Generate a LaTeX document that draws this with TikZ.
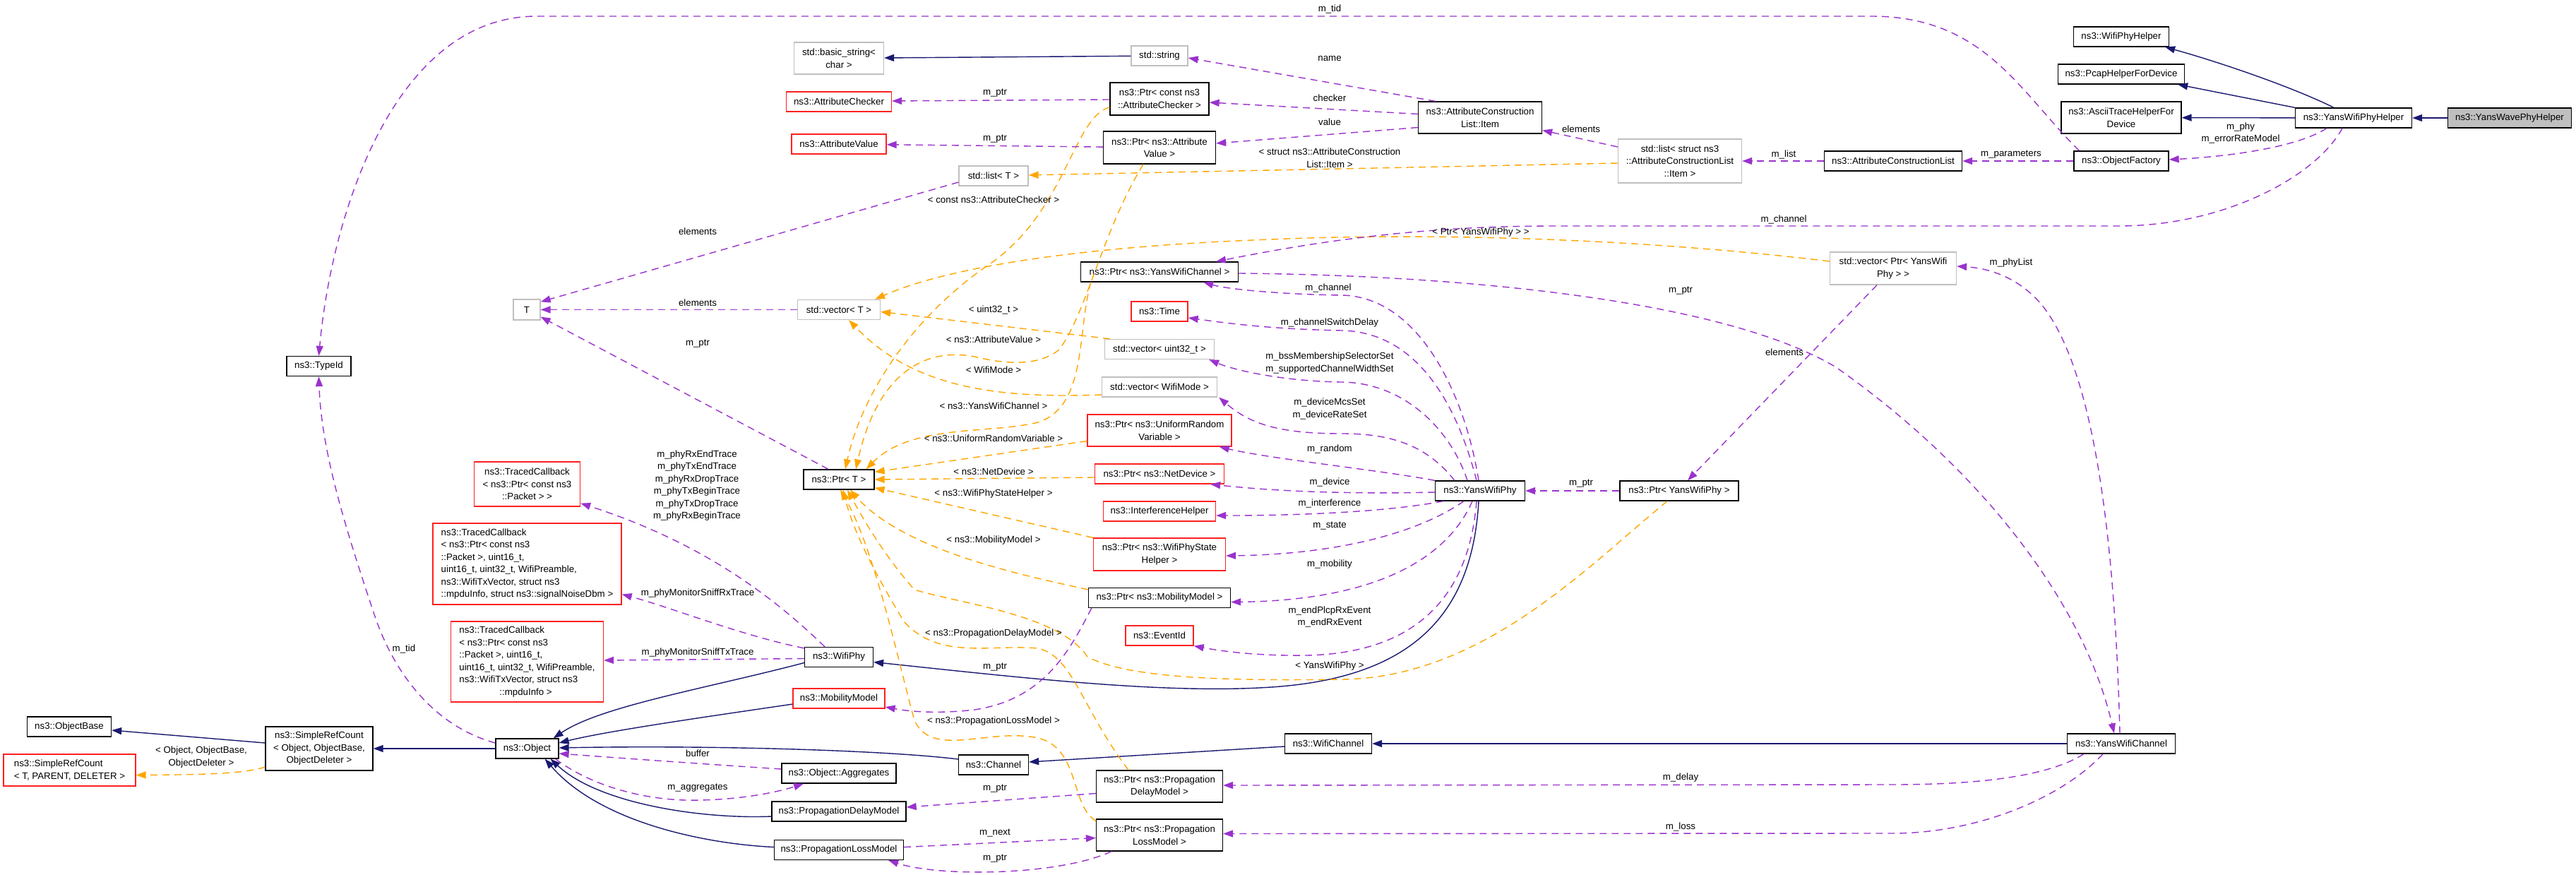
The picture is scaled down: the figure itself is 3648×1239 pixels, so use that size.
\documentclass[tikz,border=0pt]{standalone}
\usepackage{fontspec}
\setmainfont{Liberation Sans}
\usetikzlibrary{positioning, calc, arrows.meta}
\definecolor{inhblue}{HTML}{191970}
\definecolor{usepurple}{HTML}{9A32CD}
\definecolor{tplorange}{HTML}{FFA500}
\definecolor{boxgray}{HTML}{BFBFBF}
\definecolor{boxred}{HTML}{FF2020}
\begin{document}
\begin{tikzpicture}[x=1pt, y=-1pt,
          font=\fontsize{13.3}{17.5}\selectfont,
          cls/.style={rectangle, draw=black, line width=1.3pt, inner sep=0pt, minimum height=28, align=center},
          redcls/.style={cls, draw=boxred},
          graycls/.style={cls, draw=boxgray},
          thiscls/.style={cls, fill=boxgray},
          inherit/.style={draw=inhblue, line width=1.4pt, -{Triangle[length=14pt, width=10pt]}},
          usage/.style={draw=usepurple, line width=1.4pt, dash pattern=on 10pt off 7pt, -{Triangle[length=14pt, width=10pt]}},
          tmpl/.style={usage, draw=tplorange},
          lbl/.style={inner sep=0pt, align=center}
        ]
        \useasboundingbox (0,0) rectangle (3648,1239);
        \node[thiscls, minimum width=175] (yanswave) at (3554,167) {ns3::YansWavePhyHelper};
        \node[cls, minimum width=165] (yanshelper) at (3333,167) {ns3::YansWifiPhyHelper};
        \node[cls, minimum width=135] (wifiphyhelper) at (3004,52) {ns3::WifiPhyHelper};
        \node[cls, minimum width=179] (pcaphelper) at (3004,105) {ns3::PcapHelperForDevice};
        \node[cls, minimum width=170, minimum height=45] (asciihelper) at (3004,166.5) {ns3::AsciiTraceHelperFor\\Device};
        \node[cls, minimum width=134] (objfactory) at (3004,228) {ns3::ObjectFactory};
        \node[cls, minimum width=195] (attrlist) at (2681,228) {ns3::AttributeConstructionList};
        \node[graycls, minimum width=175, minimum height=62] (stdlistitem) at (2379,228) {std::list< struct ns3\\::AttributeConstructionList\\::Item >};
        \node[cls, minimum width=175, minimum height=45] (item) at (2096,166.5) {ns3::AttributeConstruction\\List::Item};
        \node[graycls, minimum width=80] (stdstring) at (1642,79) {std::string};
        \node[graycls, minimum width=127, minimum height=45] (basicstring) at (1188,82.5) {std::basic\_string<\\char >};
        \node[cls, minimum width=140, minimum height=46] (ptrchecker) at (1642,140) {ns3::Ptr< const ns3\\::AttributeChecker >};
        \node[redcls, minimum width=149] (checker) at (1188,144) {ns3::AttributeChecker};
        \node[cls, minimum width=159, minimum height=46] (ptrvalue) at (1642,209) {ns3::Ptr< ns3::Attribute\\Value >};
        \node[redcls, minimum width=134] (value) at (1188,204) {ns3::AttributeValue};
        \node[graycls, minimum width=98] (stdlistT) at (1407,249) {std::list< T >};
        \node[cls, minimum width=223] (ptrchannel) at (1642,385) {ns3::Ptr< ns3::YansWifiChannel >};
        \node[graycls, minimum width=179, minimum height=46] (vecyansphy) at (2681,380) {std::vector< Ptr< YansWifi\\Phy > >};
        \node[graycls, minimum width=38, minimum height=29] (T) at (746,438.5) {T};
        \node[cls, minimum width=91] (typeid) at (451.5,518.5) {ns3::TypeId};
        \node[graycls, minimum width=117] (vecT) at (1188,438.5) {std::vector< T >};
        \node[redcls, minimum width=80] (time) at (1642,441) {ns3::Time};
        \node[graycls, minimum width=155] (vecuint) at (1642,494.5) {std::vector< uint32\_t >};
        \node[graycls, minimum width=163] (vecmode) at (1642,548) {std::vector< WifiMode >};
        \node[redcls, minimum width=204, minimum height=45] (ptrrandom) at (1642,609.5) {ns3::Ptr< ns3::UniformRandom\\Variable >};
        \node[cls, minimum width=100] (ptrT) at (1188,679) {ns3::Ptr< T >};
        \node[redcls, minimum width=183] (ptrnetdev) at (1642,671) {ns3::Ptr< ns3::NetDevice >};
        \node[redcls, minimum width=159] (interference) at (1642,724) {ns3::InterferenceHelper};
        \node[redcls, minimum width=187, minimum height=46] (ptrstate) at (1642,785) {ns3::Ptr< ns3::WifiPhyState\\Helper >};
        \node[cls, minimum width=127] (yansphy) at (2096,695) {ns3::YansWifiPhy};
        \node[cls, minimum width=168] (ptryansphy) at (2378,695) {ns3::Ptr< YansWifiPhy >};
        \node[redcls, minimum width=150, minimum height=63] (tc1) at (746.5,685.5) {ns3::TracedCallback\\< ns3::Ptr< const ns3\\::Packet > >};
        \node[redcls, minimum width=267, minimum height=115, align=left] (tc2) at (746.5,798.5) {ns3::TracedCallback\\< ns3::Ptr< const ns3\\::Packet >, uint16\_t,\\uint16\_t, uint32\_t, WifiPreamble,\\ns3::WifiTxVector, struct ns3\\::mpduInfo, struct ns3::signalNoiseDbm >};
        \node[redcls, minimum width=216, minimum height=114, align=left] (tc3) at (746.5,937) {ns3::TracedCallback\\< ns3::Ptr< const ns3\\::Packet >, uint16\_t,\\uint16\_t, uint32\_t, WifiPreamble,\\ns3::WifiTxVector, struct ns3\\\hspace*{57pt}::mpduInfo >};
        \node[cls, minimum width=201] (ptrmobility) at (1642,846.5) {ns3::Ptr< ns3::MobilityModel >};
        \node[redcls, minimum width=96] (eventid) at (1642,900) {ns3::EventId};
        \node[cls, minimum width=97] (wifiphy) at (1188,930.5) {ns3::WifiPhy};
        \node[redcls, minimum width=130] (mobility) at (1188,989) {ns3::MobilityModel};
        \node[cls, minimum width=119] (objbase) at (98,1029) {ns3::ObjectBase};
        \node[cls, minimum width=152, minimum height=62] (refcount) at (452,1060) {ns3::SimpleRefCount\\< Object, ObjectBase,\\ObjectDeleter >};
        \node[redcls, minimum width=187, minimum height=45, align=left] (refcountT) at (98.5,1090.5) {ns3::SimpleRefCount\\< T, PARENT, DELETER >};
        \node[cls, minimum width=89] (object) at (746.5,1060) {ns3::Object};
        \node[cls, minimum width=99] (channel) at (1407,1083) {ns3::Channel};
        \node[cls, minimum width=162] (aggregates) at (1188,1095) {ns3::Object::Aggregates};
        \node[cls, minimum width=190] (delaymodel) at (1188,1149) {ns3::PropagationDelayModel};
        \node[cls, minimum width=179, minimum height=45] (ptrdelay) at (1642,1113.5) {ns3::Ptr< ns3::Propagation\\DelayModel >};
        \node[cls, minimum width=179, minimum height=45] (ptrloss) at (1642,1182.5) {ns3::Ptr< ns3::Propagation\\LossModel >};
        \node[cls, minimum width=183] (lossmodel) at (1188,1203.5) {ns3::PropagationLossModel};
        \node[cls, minimum width=123] (wifichannel) at (1881,1053) {ns3::WifiChannel};
        \node[cls, minimum width=153] (yanschannel) at (3004,1053) {ns3::YansWifiChannel};
        \draw[inherit] (yanswave) -- (yanshelper);
        \draw[inherit] ($(yanshelper.north)+(-28,0)$) .. controls (3250,125) and (3150,90) .. ($(wifiphyhelper.south east)+(-6,0)$);
        \draw[inherit] (yanshelper.north west) -- ($(pcaphelper.south east)+(-10,0)$);
        \draw[inherit] (yanshelper) -- (asciihelper);
        \draw[inherit] (stdstring) -- (basicstring);
        \draw[inherit] ($(yansphy.south)+(-2,0)$) .. controls (2085,870) and (2000,960) .. (1800,973) .. controls (1650,983) and (1450,960) .. ($(wifiphy.east)+(0,7)$);
        \draw[inherit] ($(wifiphy.west)+(0,8)$) .. controls (1000,975) and (850,1000) .. ($(object.north east)+(-8,0)$);
        \draw[inherit] ($(mobility.west)+(0,8)$) .. controls (1000,1015) and (860,1035) .. ($(object.east)+(0,-8)$);
        \draw[inherit] ($(channel.west)+(0,-8)$) .. controls (1250,1062) and (1000,1055) .. ($(object.east)+(0,-1)$);
        \draw[inherit] ($(wifichannel.west)+(0,4)$) -- ($(channel.east)+(0,-4)$);
        \draw[inherit] (yanschannel) -- (wifichannel);
        \draw[inherit] ($(delaymodel.west)+(0,7)$) .. controls (1000,1160) and (850,1140) .. ($(object.south east)+(-12,0)$);
        \draw[inherit] ($(lossmodel.west)+(0,-4)$) .. controls (1000,1195) and (850,1165) .. ($(object.south east)+(-20,0)$);
        \draw[inherit] (object) -- (refcount);
        \draw[inherit] ($(refcount.west)+(0,-8)$) -- ($(objbase.east)+(0,5)$);
        \draw[tmpl] ($(refcount.west)+(0,26)$) .. controls (345,1097) and (260,1097) .. ($(refcountT.east)+(0,7)$);
        \draw[tmpl] ($(stdlistitem.west)+(0,3)$) -- (stdlistT);
        \draw[tmpl] ($(vecyansphy.west)+(0,-10)$) .. controls (2300,335) and (2000,330) .. (1800,339) .. controls (1550,348) and (1350,375) .. ($(vecT.north east)+(-8,0)$);
        \draw[tmpl] ($(vecuint.north west)+(8,0)$) -- ($(vecT.east)+(0,3)$);
        \draw[tmpl] ($(vecmode.west)+(0,11)$) .. controls (1400,565) and (1290,545) .. ($(vecT.south)+(14,0)$);
        \draw[tmpl] ($(ptrchecker.west)+(0,12)$) .. controls (1520,165) and (1510,300) .. (1400,375) .. controls (1290,450) and (1220,560) .. ($(ptrT.north)+(9,0)$);
        \draw[tmpl] ($(ptrvalue.south)+(-23,0)$) .. controls (1560,330) and (1540,440) .. (1500,495) .. controls (1470,520) and (1420,515) .. (1380,505) .. controls (1300,490) and (1240,540) .. ($(ptrT.north)+(24,0)$);
        \draw[tmpl] ($(ptrchannel.south west)+(15,0)$) .. controls (1525,470) and (1540,575) .. (1470,598) .. controls (1400,615) and (1290,600) .. ($(ptrT.north east)+(-12,0)$);
        \draw[tmpl] ($(ptrrandom.west)+(0,15)$) -- ($(ptrT.north east)+(0,4)$);
        \draw[tmpl] ($(ptrnetdev.west)+(0,5)$) -- (ptrT.east);
        \draw[tmpl] (ptrstate.north west) -- ($(ptrT.south east)+(0,-3)$);
        \draw[tmpl] ($(ptrmobility.north west)+(0,3)$) .. controls (1450,815) and (1280,780) .. ($(ptrT.south)+(16,0)$);
        \draw[tmpl] ($(ptrdelay.north)+(-44,0)$) .. controls (1530,1000) and (1520,930) .. (1470,918) .. controls (1400,912) and (1330,935) .. (1280,880) .. controls (1250,830) and (1210,760) .. ($(ptrT.south)+(6,0)$);
        \draw[tmpl] ($(ptrloss.north west)+(0,3)$) .. controls (1515,1140) and (1530,1060) .. (1470,1045) .. controls (1400,1030) and (1320,1075) .. (1295,1020) .. controls (1275,950) and (1240,780) .. ($(ptrT.south)+(2,0)$);
        \draw[tmpl] ($(ptryansphy.south)+(-17,0)$) .. controls (2250,800) and (2100,960) .. (1900,962) .. controls (1750,964) and (1600,962) .. (1540,930) .. controls (1500,870) and (1360,855) .. (1295,835) .. controls (1255,790) and (1225,740) .. ($(ptrT.south)+(12,0)$);
        \draw[usage] ($(objfactory.north west)+(8,0)$) .. controls (2860,130) and (2810,23) .. (2650,23) -- (760,23) .. controls (560,23) and (470,300) .. (typeid.north);
        \draw[usage] ($(object.west)+(0,-8)$) .. controls (620,1030) and (560,960) .. (530,870) .. controls (490,750) and (455,640) .. (typeid.south);
        \draw[usage] ($(item.north west)+(25,0)$) -- ($(stdstring.east)+(0,3)$);
        \draw[usage] ($(item.west)+(0,-5)$) -- ($(ptrchecker.east)+(0,5)$);
        \draw[usage] ($(item.west)+(0,14)$) -- ($(ptrvalue.east)+(0,-6)$);
        \draw[usage] ($(ptrchecker.west)+(0,1)$) -- ($(checker.east)+(0,-1)$);
        \draw[usage] (ptrvalue) -- (value);
        \draw[usage] ($(stdlistitem.west)+(0,-20)$) -- ($(item.east)+(0,18)$);
        \draw[usage] (attrlist) -- (stdlistitem);
        \draw[usage] (objfactory) -- (attrlist);
        \draw[usage] ($(yanshelper.south)+(-38,0)$) .. controls (3250,210) and (3150,222) .. ($(objfactory.east)+(0,-2)$);
        \draw[usage] ($(yanshelper.south)+(-16,0)$) .. controls (3280,250) and (3150,320) .. (3000,320) -- (2200,320) .. controls (2000,320) and (1850,345) .. ($(ptrchannel.north east)+(-32,0)$);
        \draw[usage] ($(stdlistT.west)+(0,9)$) -- ($(T.north east)+(0,4)$);
        \draw[usage] (vecT) -- (T);
        \draw[usage] ($(ptrT.north)+(-15,0)$) -- ($(T.south east)+(0,-5)$);
        \draw[usage] ($(yansphy.north)+(-2,0)$) .. controls (2075,560) and (2010,420) .. (1900,418) .. controls (1820,417) and (1740,410) .. ($(ptrchannel.south east)+(-50,0)$);
        \draw[usage] ($(ptrchannel.east)+(0,2)$) .. controls (2100,390) and (2450,430) .. (2600,520) .. controls (2800,660) and (2950,850) .. ($(yanschannel.north)+(-10,0)$);
        \draw[usage] ($(vecyansphy.south)+(-23,0)$) -- ($(ptryansphy.north)+(12,0)$);
        \draw[usage] ($(yanschannel.north)+(-2,0)$) .. controls (2995,760) and (2965,520) .. (2890,430) .. controls (2860,395) and (2820,380) .. ($(vecyansphy.east)+(0,-3)$);
        \draw[usage] (ptryansphy) -- (yansphy);
        \draw[usage] ($(yansphy.north)+(-5,0)$) .. controls (2060,560) and (2000,470) .. (1900,468) .. controls (1800,466) and (1740,458) .. ($(time.east)+(0,9)$);
        \draw[usage] ($(yansphy.north)+(-18,0)$) .. controls (2055,610) and (1990,542) .. (1900,541) .. controls (1820,540) and (1750,525) .. ($(vecuint.south east)+(-8,0)$);
        \draw[usage] ($(yansphy.north west)+(28,0)$) .. controls (2020,630) and (1970,614) .. (1900,614) .. controls (1810,614) and (1770,600) .. ($(vecmode.south east)+(2,0)$);
        \draw[usage] (yansphy.north west) .. controls (1950,665) and (1800,650) .. ($(ptrrandom.south east)+(-18,0)$);
        \draw[usage] ($(yansphy.west)+(0,2)$) .. controls (1900,700) and (1800,695) .. ($(ptrnetdev.south east)+(-20,0)$);
        \draw[usage] ($(yansphy.south west)+(12,0)$) .. controls (1980,722) and (1870,730) .. ($(interference.east)+(0,6)$);
        \draw[usage] ($(yansphy.south)+(-23,0)$) .. controls (2000,760) and (1880,785) .. ($(ptrstate.east)+(0,2)$);
        \draw[usage] ($(yansphy.south)+(-11,0)$) .. controls (2050,790) and (1950,850) .. ($(ptrmobility.east)+(0,6)$);
        \draw[usage] ($(yansphy.south)+(-5,0)$) .. controls (2080,850) and (2000,925) .. (1850,928) .. controls (1780,929) and (1730,922) .. (eventid.south east);
        \draw[usage] ($(ptrmobility.south west)+(5,0)$) .. controls (1515,920) and (1480,990) .. (1380,1005) .. controls (1320,1012) and (1280,1006) .. ($(mobility.east)+(0,12)$);
        \draw[usage] ($(wifiphy.north)+(-20,0)$) .. controls (1100,850) and (1000,770) .. ($(tc1.south east)+(0,-5)$);
        \draw[usage] ($(wifiphy.north west)+(0,2)$) .. controls (1050,900) and (950,860) .. ($(tc2.east)+(0,43)$);
        \draw[usage] ($(wifiphy.west)+(0,2)$) -- ($(tc3.east)+(0,-2)$);
        \draw[usage] ($(aggregates.west)+(0,-6)$) .. controls (1000,1082) and (900,1075) .. ($(object.east)+(0,7)$);
        \draw[usage] ($(object.south east)+(-5,0)$) .. controls (840,1115) and (920,1135) .. (990,1133) .. controls (1050,1132) and (1100,1122) .. ($(aggregates.south)+(-50,0)$);
        \draw[usage] ($(ptrdelay.west)+(0,10)$) -- ($(delaymodel.east)+(0,-6)$);
        \draw[usage] ($(lossmodel.east)+(0,-4)$) -- ($(ptrloss.west)+(0,4)$);
        \draw[usage] ($(ptrloss.south west)+(22,0)$) .. controls (1500,1240) and (1330,1242) .. ($(lossmodel.south east)+(-22,0)$);
        \draw[usage] ($(yanschannel.south west)+(24,0)$) .. controls (2900,1100) and (2800,1111) .. (2680,1111) -- ($(ptrdelay.east)+(0,-1.5)$);
        \draw[usage] ($(yanschannel.south)+(-26,0)$) .. controls (2920,1130) and (2800,1180) .. (2680,1180) -- ($(ptrloss.east)+(0,-2)$);
        \node[lbl] (lbtidtop) at (1883,13) {m\_tid};
        \node[lbl] (lbname) at (1883,83) {name};
        \node[lbl] (lbchecker) at (1883,139) {checker};
        \node[lbl] (lbvalue) at (1883,173) {value};
        \node[lbl] (lbstruct) at (1883,223.5) {< struct ns3::AttributeConstruction\\List::Item >};
        \node[lbl] (lbelemitem) at (2239,183) {elements};
        \node[lbl] (lblist) at (2526,219) {m\_list};
        \node[lbl] (lbparams) at (2848,219) {m\_parameters};
        \node[lbl] (lbphy) at (3173,188.5) {m\_phy\\m\_errorRateModel};
        \node[lbl] (lbptrchecker) at (1409,132) {m\_ptr};
        \node[lbl] (lbptrvalue) at (1409,197) {m\_ptr};
        \node[lbl] (lbconstchecker) at (1407,283) {< const ns3::AttributeChecker >};
        \node[lbl] (lbelemlist) at (988,328) {elements};
        \node[lbl] (lbchanhelper) at (2526,311) {m\_channel};
        \node[lbl] (lbptrphy) at (2097,329) {< Ptr< YansWifiPhy > >};
        \node[lbl] (lbphylist) at (2848,372) {m\_phyList};
        \node[lbl] (lbchanphy) at (1881,408) {m\_channel};
        \node[lbl] (lbptrchan) at (2380,412) {m\_ptr};
        \node[lbl] (lbelemvec) at (988,429) {elements};
        \node[lbl] (lbuint) at (1407,439) {< uint32\_t >};
        \node[lbl] (lbswitch) at (1883,457) {m\_channelSwitchDelay};
        \node[lbl] (lbattrvalue) at (1407,481) {< ns3::AttributeValue >};
        \node[lbl] (lbptrT) at (988,487) {m\_ptr};
        \node[lbl] (lbelemphy) at (2527,499) {elements};
        \node[lbl] (lbbss) at (1883,514) {m\_bssMembershipSelectorSet\\m\_supportedChannelWidthSet};
        \node[lbl] (lbmode) at (1407,524) {< WifiMode >};
        \node[lbl] (lbyanschan) at (1407,575) {< ns3::YansWifiChannel >};
        \node[lbl] (lbmcs) at (1883,579) {m\_deviceMcsSet\\m\_deviceRateSet};
        \node[lbl] (lburv) at (1407,621) {< ns3::UniformRandomVariable >};
        \node[lbl] (lbrandom) at (1883,636) {m\_random};
        \node[lbl] (lbtraces) at (987,687.5) {m\_phyRxEndTrace\\m\_phyTxEndTrace\\m\_phyRxDropTrace\\m\_phyTxBeginTrace\\m\_phyTxDropTrace\\m\_phyRxBeginTrace};
        \node[lbl] (lbnetdev) at (1407,668) {< ns3::NetDevice >};
        \node[lbl] (lbdevice) at (1883,683) {m\_device};
        \node[lbl] (lbptryans) at (2239,685) {m\_ptr};
        \node[lbl] (lbstatehelper) at (1407,699) {< ns3::WifiPhyStateHelper >};
        \node[lbl] (lbinterf) at (1883,713) {m\_interference};
        \node[lbl] (lbstate) at (1883,745) {m\_state};
        \node[lbl] (lbmobmodel) at (1407,765) {< ns3::MobilityModel >};
        \node[lbl] (lbmobility) at (1883,799) {m\_mobility};
        \node[lbl] (lbsniffrx) at (988,840) {m\_phyMonitorSniffRxTrace};
        \node[lbl] (lbevents) at (1883,873.5) {m\_endPlcpRxEvent\\m\_endRxEvent};
        \node[lbl] (lbpdm) at (1407,897) {< ns3::PropagationDelayModel >};
        \node[lbl] (lbtidobj) at (572,919) {m\_tid};
        \node[lbl] (lbsnifftx) at (988,924) {m\_phyMonitorSniffTxTrace};
        \node[lbl] (lbyansphy) at (1883,943) {< YansWifiPhy >};
        \node[lbl] (lbptrmob) at (1409,945) {m\_ptr};
        \node[lbl] (lbplm) at (1407,1021) {< ns3::PropagationLossModel >};
        \node[lbl] (lbrefcount) at (285,1072) {< Object, ObjectBase,\\ObjectDeleter >};
        \node[lbl] (lbbuffer) at (988,1067) {buffer};
        \node[lbl] (lbdelay) at (2380,1101) {m\_delay};
        \node[lbl] (lbaggr) at (988,1116) {m\_aggregates};
        \node[lbl] (lbptrdelay) at (1409,1117) {m\_ptr};
        \node[lbl] (lbloss) at (2380,1171) {m\_loss};
        \node[lbl] (lbnext) at (1409,1180) {m\_next};
        \node[lbl] (lbptrloss) at (1409,1216) {m\_ptr};
      \end{tikzpicture}
\end{document}
